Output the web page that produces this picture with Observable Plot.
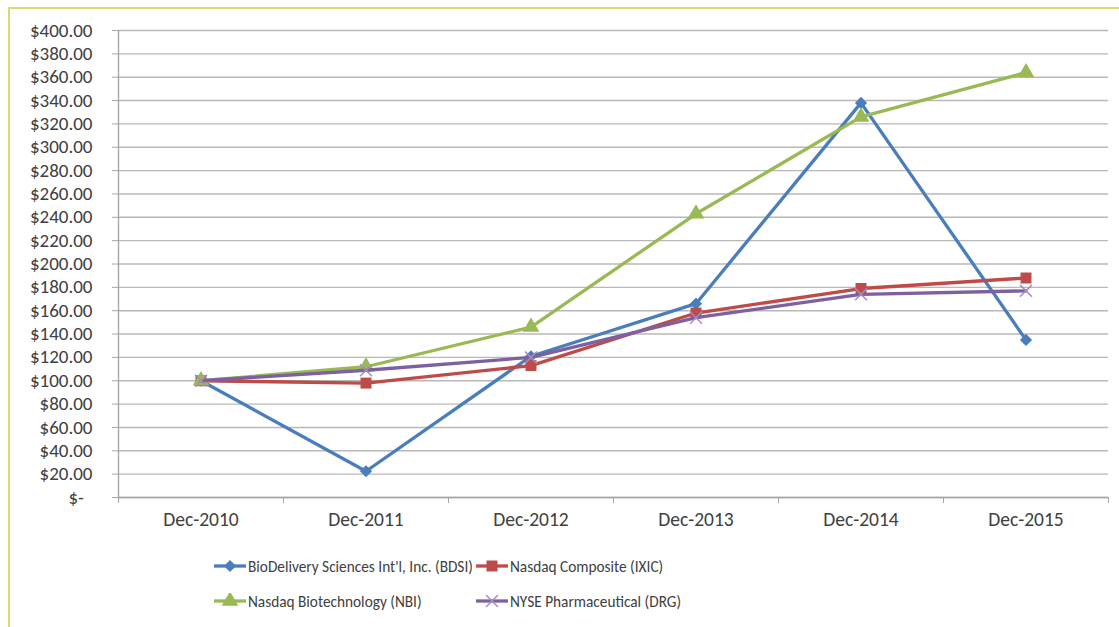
<!DOCTYPE html>
<html>
<head>
<meta charset="utf-8">
<script src="https://cdn.jsdelivr.net/npm/d3@7"></script>
<script src="https://cdn.jsdelivr.net/npm/@observablehq/plot@0.6"></script>
<style>
  html, body { margin: 0; padding: 0; background: #fff; }
  #wrap { position: relative; width: 1119px; height: 627px; overflow: hidden; font-family: Carlito, Calibri, "Liberation Sans Narrow", Lato, sans-serif; color: #404040; }
  #border { position: absolute; left: 8px; top: 7px; width: 1200px; height: 700px; border-left: 2px solid #d6db72; border-top: 2px solid #d6db72; }
  #chart { position: absolute; left: 0; top: 0; }
  #legend { position: absolute; left: 214px; top: 555px; display: grid; grid-template-columns: 262px auto; row-gap: 13px; font-size: 15.3px; }
  .item { display: flex; align-items: center; height: 22px; white-space: nowrap; }
  .item svg { margin-right: 2px; }
</style>
</head>
<body>
<div id="wrap">
  <div id="border"></div>
  <div id="chart"></div>
  <div id="legend"></div>
</div>
<script>
const categories = ["Dec-2010", "Dec-2011", "Dec-2012", "Dec-2013", "Dec-2014", "Dec-2015"];
const seriesNames = [
  "BioDelivery Sciences Int'l, Inc. (BDSI)",
  "Nasdaq Composite (IXIC)",
  "Nasdaq Biotechnology (NBI)",
  "NYSE Pharmaceutical (DRG)"
];
const bdsi = [100, 22.5, 121, 166, 338, 135];
const ixic = [100, 98, 113, 158, 179, 188];
const nbi  = [100, 112, 146, 243, 326, 364];
const drg  = [100, 109, 120, 154, 174, 177];
const seriesColors = ["#4a7ebb", "#be4b48", "#98b954", "#7d60a0"];
const markerColors = ["#4a7ebb", "#be4b48", "#98b954", "#a48cc4"];
const symbols = ["diamond2", "square", "triangle", "times"];
const markerR = [5.5, 6.2, 6.2, 5.5];
const yTicks = d3.range(0, 401, 20);

const values = [bdsi, ixic, nbi, drg];
const boundaries = d3.range(categories.length + 1).map(i => i - 0.5);
const fmt = v => v === 0 ? "$-\u00a0\u00a0" : "$" + v.toFixed(2);

const seriesMarks = values.flatMap((vals, s) => {
  const rows = vals.map((v, i) => ({i, v}));
  const isStroke = symbols[s] === "times";
  return [
    Plot.line(rows, {x: "i", y: "v", stroke: seriesColors[s], strokeWidth: 3.3, strokeLinejoin: "round"}),
    Plot.dot(rows, isStroke
      ? {x: "i", y: "v", symbol: symbols[s], r: markerR[s], stroke: markerColors[s], strokeWidth: 1.5}
      : {x: "i", y: "v", symbol: symbols[s], r: markerR[s], fill: markerColors[s], stroke: "none"})
  ];
});

const chart = Plot.plot({
  width: 1119,
  height: 540,
  marginTop: 30,
  marginBottom: 43,
  marginLeft: 118,
  marginRight: 11,
  style: {fontFamily: "Carlito, Calibri, 'Liberation Sans Narrow', Lato, sans-serif", fontSize: "19px", color: "#404040", background: "transparent"},
  x: {type: "linear", domain: [-0.5, categories.length - 0.5]},
  y: {domain: [0, 400]},
  marks: [
    Plot.gridY(yTicks, {stroke: "#b8b8b8", strokeOpacity: 1, strokeWidth: 1.4}),
    Plot.axisY(yTicks, {tickSize: 6, tickPadding: 20, tickFormat: fmt, stroke: "#a6a6a6", fontSize: 19, label: null}),
    Plot.ruleX([-0.5], {stroke: "#a6a6a6", strokeWidth: 1.4}),
    Plot.ruleY([0], {stroke: "#a6a6a6", strokeWidth: 1.4}),
    Plot.axisX(boundaries, {tickSize: 6, tickFormat: () => "", stroke: "#a6a6a6", label: null}),
    Plot.axisX(d3.range(categories.length), {tickSize: 0, tickPadding: 15, tickFormat: i => categories[i], fontSize: 19.5, label: null}),
    ...seriesMarks
  ]
});
document.getElementById("chart").appendChild(chart);

// Legend
const legend = d3.select("#legend");
const symMap = {diamond2: d3.symbolDiamond2, square: d3.symbolSquare, triangle: d3.symbolTriangle, times: d3.symbolTimes};
[0, 1, 2, 3].forEach(s => {
  const item = legend.append("div").attr("class", "item");
  const svg = item.append("svg").attr("width", 32).attr("height", 16);
  svg.append("line").attr("x1", 0).attr("x2", 32).attr("y1", 8).attr("y2", 8)
    .attr("stroke", seriesColors[s]).attr("stroke-width", 3.3);
  const r = markerR[s];
  const p = svg.append("path").attr("transform", "translate(16,8)")
    .attr("d", d3.symbol(symMap[symbols[s]], Math.PI * r * r)());
  if (symbols[s] === "times") p.attr("fill", "none").attr("stroke", markerColors[s]).attr("stroke-width", 1.5);
  else p.attr("fill", markerColors[s]);
  item.append("span").text(seriesNames[s]);
});
</script>
</body>
</html>
